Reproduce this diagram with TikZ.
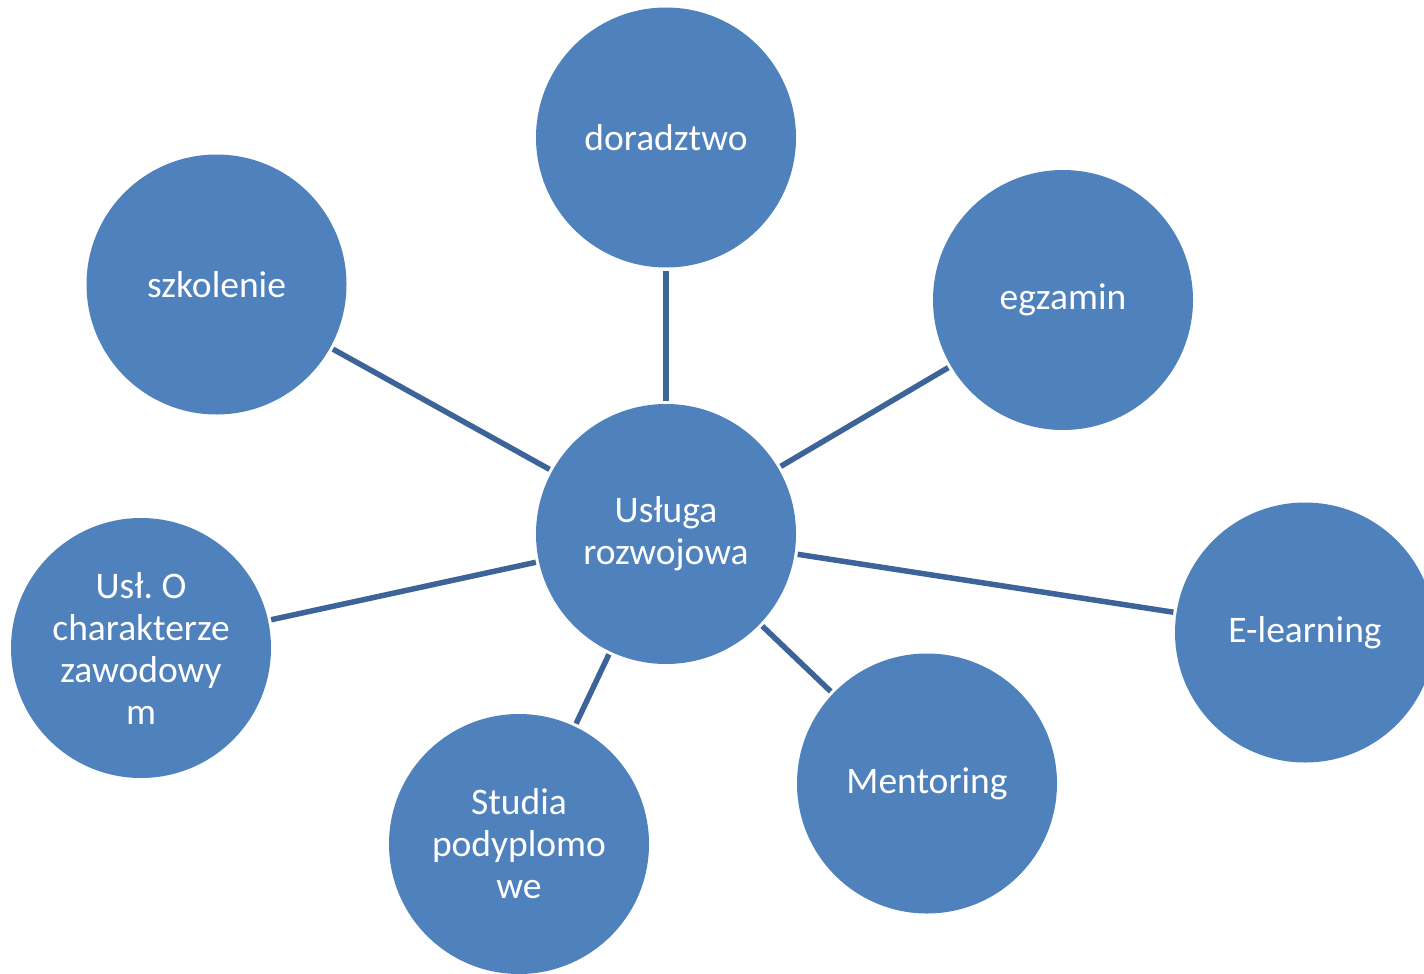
\documentclass[tikz,border=0pt]{standalone}
\usepackage{fontspec}
\setmainfont{Carlito}
\definecolor{circfill}{RGB}{79,129,189}
\definecolor{linkcol}{RGB}{60,100,152}
\begin{document}
\begin{tikzpicture}[x=1pt,y=-1pt,
  bubble/.style={circle,fill=circfill,draw=none,minimum size=260pt,inner sep=0pt,
    text=white,align=center,font=\fontsize{37.5pt}{42pt}\selectfont},
  link/.style={draw=linkcol,line width=5.5pt,shorten >=3pt,shorten <=3pt}]
\useasboundingbox (0,0) rectangle (1424,974);
\node[bubble] (c) at (666,534) {Usługa\\rozwojowa};
\node[bubble] (d) at (666,137.5) {doradztwo};
\node[bubble] (s) at (216.5,284.5) {szkolenie};
\node[bubble] (e) at (1063,300) {egzamin};
\node[bubble] (el) at (1305,632.5) {E-learning};
\node[bubble] (m) at (927,783.5) {Mentoring};
\node[bubble] (st) at (519,844) {Studia\\podyplomo\\we};
\node[bubble] (u) at (141,648) {Usł.\ O\\charakterze\\zawodowy\\m};
\draw[link] (c) -- (d);
\draw[link] (c) -- (s);
\draw[link] (c) -- (e);
\draw[link] (c) -- (el);
\draw[link] (c) -- (m);
\draw[link] (c) -- (st);
\draw[link] (c) -- (u);
\end{tikzpicture}
\end{document}
